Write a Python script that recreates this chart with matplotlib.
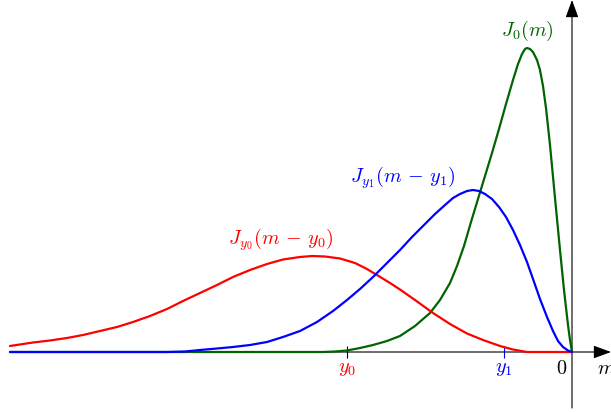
import numpy as np
import matplotlib
matplotlib.use('Agg')
import matplotlib.pyplot as plt

plt.rcParams['mathtext.fontset'] = 'cm'
plt.rcParams['font.family'] = 'DejaVu Serif'

# curves (m, value)
red_m = [-11.24, -10.78, -10.44, -10.10, -9.78, -9.44, -9.10, -8.78, -8.44, -8.10,
         -7.78, -7.44, -7.10, -6.78, -6.44, -6.10, -5.78, -5.44, -5.20, -4.94,
         -4.64, -4.34, -4.12, -3.90, -3.64, -3.44, -3.14, -2.78, -2.44, -2.10,
         -1.78, -1.44, -1.18, -0.90, 0.0]
red_v = [0.12, 0.19, 0.23, 0.28, 0.34, 0.42, 0.50, 0.60, 0.72, 0.86,
         1.02, 1.18, 1.34, 1.50, 1.64, 1.76, 1.85, 1.90, 1.92, 1.91,
         1.87, 1.78, 1.67, 1.54, 1.38, 1.25, 1.04, 0.78, 0.56, 0.37,
         0.24, 0.12, 0.05, 0.0, 0.0]

blue_m = [-11.24, -8.10, -7.74, -7.44, -7.10, -6.78, -6.44, -6.10, -5.78, -5.44,
          -5.10, -4.78, -4.50, -4.24, -3.98, -3.72, -3.44, -3.20, -2.98, -2.74,
          -2.54, -2.38, -2.24, -2.10, -1.98, -1.86, -1.74, -1.60, -1.46, -1.32,
          -1.18, -1.04, -0.90, -0.78, -0.64, -0.50, -0.38, -0.28, -0.18, -0.08, 0.0]
blue_v = [0.0, 0.0, 0.01, 0.04, 0.07, 0.10, 0.14, 0.20, 0.30, 0.42,
          0.60, 0.82, 1.04, 1.26, 1.50, 1.76, 2.04, 2.30, 2.52, 2.76,
          2.94, 3.08, 3.16, 3.22, 3.24, 3.22, 3.16, 3.06, 2.90, 2.70,
          2.44, 2.14, 1.80, 1.46, 1.06, 0.70, 0.42, 0.22, 0.10, 0.03, 0.0]

green_m = [-11.24, -4.98, -4.74, -4.50, -4.24, -3.98, -3.70, -3.44, -3.14, -2.84,
           -2.64, -2.44, -2.30, -2.16, -2.02, -1.88, -1.74, -1.60, -1.46, -1.32,
           -1.18, -1.08, -1.00, -0.94, -0.90, -0.84, -0.78, -0.70, -0.64, -0.58,
           -0.52, -0.44, -0.34, -0.24, -0.16, -0.08, -0.04, 0.0]
green_v = [0.0, 0.0, 0.01, 0.03, 0.08, 0.14, 0.22, 0.32, 0.52, 0.78,
           1.04, 1.38, 1.72, 2.12, 2.60, 3.06, 3.52, 3.98, 4.46, 4.96,
           5.44, 5.76, 5.96, 6.06, 6.08, 6.06, 6.00, 5.84, 5.64, 5.32,
           4.88, 4.14, 3.08, 2.04, 1.24, 0.54, 0.24, 0.0]

y0 = -4.50
y1 = -1.36

fig = plt.figure(figsize=(6.11, 4.12), dpi=100)
ax = fig.add_axes([0, 0, 1, 1])
ax.set_xlim(-11.44, 0.78)
ax.set_ylim(-1.2, 7.04)
ax.axis('off')

# axes with arrows
arr = dict(arrowstyle='-|>,head_length=0.6,head_width=0.22', mutation_scale=18,
           lw=0.8, color='black', shrinkA=0, shrinkB=0)
ax.annotate('', xy=(0.78, 0), xytext=(-11.24, 0), arrowprops=arr)
ax.annotate('', xy=(0, 7.04), xytext=(0, -1.12), arrowprops=arr)

line_kw = dict(lw=1.6, solid_joinstyle='round', solid_capstyle='round')
ax.plot(green_m, green_v, color='#006400', zorder=3, **line_kw)
ax.plot(red_m, red_v, color='red', zorder=4, **line_kw)
ax.plot(blue_m, blue_v, color='blue', zorder=5, **line_kw)

# ticks on the m axis
ax.plot([y0], [0], marker='|', ms=9, mew=0.8, color='black', zorder=2)
ax.plot([y1], [0], marker='|', ms=9, mew=0.8, color='blue', zorder=2)

fs = 14.5
ax.text(y0, -0.32, r'$y_0$', color='red', fontsize=fs, ha='center', va='center')
ax.text(y1, -0.32, r'$y_1$', color='blue', fontsize=fs, ha='center', va='center')
ax.text(-0.2, -0.32, r'$0$', color='black', fontsize=fs, ha='center', va='center')
ax.text(0.5, -0.32, r'$m$', color='black', fontsize=fs, ha='left', va='center')

ax.text(-0.9, 6.42, r'$J_0(m)$', color='#006400', fontsize=fs, ha='center', va='center')
ax.text(-3.38, 3.48, r'$J_{y_1}(m\,-\,y_1)$', color='blue', fontsize=fs, ha='center', va='center')
ax.text(-5.82, 2.24, r'$J_{y_0}(m\,-\,y_0)$', color='red', fontsize=fs, ha='center', va='center')

fig.savefig('out.png', dpi=100)
